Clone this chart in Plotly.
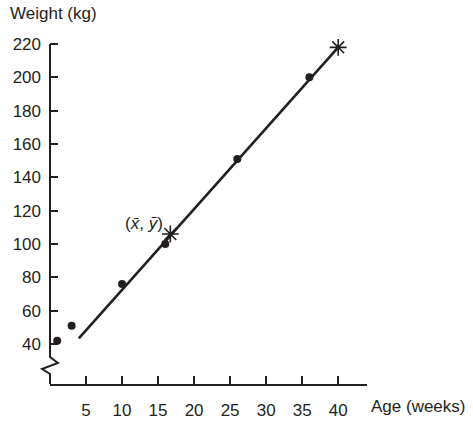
import plotly.graph_objects as go

# Data
age_weeks = [1, 3, 10, 16, 26, 36]
weight_kg = [42, 51, 76, 100, 151, 200]
fit_x = [4, 40]
fit_y = [43.4, 218]
mean_x = [16.7]
mean_y = [106]
end_x = [40]
end_y = [218]
x_ticks = [5, 10, 15, 20, 25, 30, 35, 40]
y_ticks = [40, 60, 80, 100, 120, 140, 160, 180, 200, 220]

INK = "#231f20"
FONT = "Liberation Sans, Arial, sans-serif"
X_RANGE = [0, 44]
Y_RANGE = [16, 228.4]


def py(y):
    return (y - Y_RANGE[0]) / (Y_RANGE[1] - Y_RANGE[0])


fig = go.Figure()
fig.add_trace(go.Scatter(x=fit_x, y=fit_y, mode="lines",
                         line=dict(color=INK, width=2.6), hoverinfo="skip"))
fig.add_trace(go.Scatter(x=age_weeks, y=weight_kg, mode="markers",
                         marker=dict(color=INK, size=8), cliponaxis=False))
fig.add_trace(go.Scatter(x=mean_x + end_x, y=mean_y + end_y, mode="markers",
                         marker=dict(symbol="asterisk-open", size=14, color=INK,
                                     line=dict(color=INK, width=1.6)),
                         cliponaxis=False))

# broken y-axis line (paper coords, derived from axis ranges)
dx = 1.1 / (X_RANGE[1] - X_RANGE[0])
ytop = py(220)
yb1 = py(32.2)
yb2 = py(28.6)
yb3 = py(25.0)
yb4 = py(22.0)
path = (f"M 0 {ytop} L 0 {yb1} L {dx} {yb2} L {-dx} {yb3} L 0 {yb4} L 0 0")
fig.add_shape(type="path", path=path, xref="paper", yref="paper",
              line=dict(color=INK, width=2))

PW, PH = 317, 354
W, H = 473, 421
L, T = 50, 30
fig.add_annotation(x=15.9, y=112.5, text="(<i>x̄</i>, <i>ȳ</i>)", showarrow=False,
                   xanchor="right", yanchor="middle",
                   font=dict(family=FONT, size=17, color=INK))
fig.add_annotation(xref="paper", yref="paper", x=-42 / PW, y=1 + 16 / PH,
                   text="Weight (kg)", showarrow=False, xanchor="left",
                   yanchor="middle", font=dict(family=FONT, size=17, color=INK))
fig.add_annotation(xref="paper", yref="paper", x=1 + 2 / PW, y=-22 / PH,
                   text="Age (weeks)", showarrow=False, xanchor="left",
                   yanchor="middle", font=dict(family=FONT, size=17, color=INK))

tickfont = dict(family=FONT, size=17, color=INK)
fig.update_layout(
    width=W, height=H,
    margin=dict(l=L, r=W - L - PW, t=T, b=H - T - PH),
    paper_bgcolor="white", plot_bgcolor="white",
    showlegend=False,
    font=dict(family=FONT, size=17, color=INK),
    xaxis=dict(range=X_RANGE, tickvals=x_ticks, ticks="inside", ticklen=8,
               tickwidth=1.5, tickcolor=INK, showline=True, linecolor=INK,
               linewidth=2, showgrid=False, zeroline=False, automargin=False,
               ticklabelstandoff=10, tickfont=tickfont),
    yaxis=dict(range=Y_RANGE, tickvals=y_ticks, ticks="inside", ticklen=8,
               tickwidth=1.5, tickcolor=INK, showline=False, showgrid=False,
               zeroline=False, automargin=False, ticklabelstandoff=8,
               tickfont=tickfont),
)

fig.write_html("out.html", config={"displayModeBar": False},
               post_script="document.body.style.margin='0';")
